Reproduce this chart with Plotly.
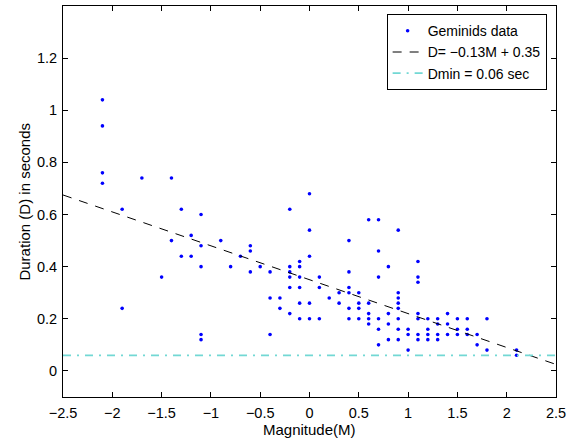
import plotly.graph_objects as go

# Geminids data: magnitude M and duration D (s)
mag = [-2.1, -2.1, -2.1, -2.1, -1.7, -1.4, -1.9, -1.3, -1.1, -1.2, -1.4, -0.9, -1.1, -1.3, -1.2, -1.1, -1.5, -1.9,
       -1.1, -1.1,
       -0.6, -0.6, -0.7, -0.8, -0.5, -0.6, -0.4, 0.0, -0.2, 0.0, 0.0, -0.1, -0.2, -0.1, -0.2, -0.2, -0.1, 0.1,
       -0.2, -0.1, 0.1, -0.4, -0.3, 0.2, -0.3, -0.1, 0.0, 0.3, -0.2, -0.1, 0.0, 0.1, -0.4,
       0.4, 0.4, 0.4, 0.3, 0.4, 0.5, 0.5, 0.6, 0.4, 0.5, 0.4, 0.5, 0.6, 0.7, 0.6, 0.6, 0.7, 0.7,
       0.6, 0.7, 0.7, 0.7, 0.8, 0.8, 0.8, 0.8,
       0.9, 1.1, 1.1, 1.1, 0.9, 0.9, 0.9, 0.9, 0.9, 0.9, 1.0, 1.0, 0.9, 1.0, 1.1, 1.1, 1.2, 1.3, 1.3,
       1.4, 1.4, 1.5, 1.6, 1.8, 1.2, 1.5, 1.6, 1.1, 1.2, 1.3, 1.4, 1.5, 1.6, 1.7, 1.1, 1.2, 1.3,
       1.7, 1.8, 2.1, 2.1]
dur = [1.04, 0.94, 0.76, 0.72, 0.74, 0.74, 0.62, 0.62, 0.60, 0.52, 0.50, 0.50, 0.48, 0.44, 0.44, 0.40, 0.36, 0.24,
       0.14, 0.12,
       0.48, 0.46, 0.44, 0.40, 0.40, 0.38, 0.38, 0.68, 0.62, 0.54, 0.44, 0.42, 0.40, 0.40, 0.38, 0.36, 0.36, 0.36,
       0.32, 0.32, 0.32, 0.28, 0.28, 0.28, 0.24, 0.26, 0.26, 0.26, 0.22, 0.20, 0.20, 0.20, 0.14,
       0.50, 0.38, 0.32, 0.30, 0.30, 0.30, 0.26, 0.26, 0.24, 0.24, 0.20, 0.20, 0.20, 0.20, 0.22, 0.18, 0.16, 0.10,
       0.58, 0.58, 0.46, 0.36, 0.40, 0.22, 0.18, 0.12,
       0.54, 0.42, 0.36, 0.34, 0.30, 0.28, 0.26, 0.24, 0.20, 0.16, 0.16, 0.14, 0.12, 0.08, 0.22, 0.20, 0.20, 0.20, 0.18,
       0.22, 0.18, 0.20, 0.20, 0.20, 0.16, 0.16, 0.16, 0.14, 0.14, 0.14, 0.14, 0.14, 0.14, 0.14, 0.12, 0.12, 0.12,
       0.10, 0.08, 0.08, 0.06]

# Fit line D = slope*M + intercept, and minimum duration
slope = -0.13
intercept = 0.35
dmin = 0.06
fit_x = [-2.5, 2.5]
fit_y = [slope * m + intercept for m in fit_x]
dmin_x = [-2.5, 2.5]
dmin_y = [dmin, dmin]

x_ticks = [-2.5, -2, -1.5, -1, -0.5, 0, 0.5, 1, 1.5, 2, 2.5]
y_ticks = [0, 0.2, 0.4, 0.6, 0.8, 1.0, 1.2]
x_title = "Magnitude(M)"
y_title = "Duration (D) in seconds"

family = "Liberation Sans, Arial, Helvetica, sans-serif"
font = dict(family=family, size=15, color="black")
tick_font = dict(family=family, size=14.5, color="black")

fig = go.Figure()
fig.add_trace(go.Scatter(x=mag, y=dur, mode="markers", name="Geminids data",
                         marker=dict(color="blue", size=3.6, line=dict(width=0))))
fig.add_trace(go.Scatter(x=fit_x, y=fit_y, mode="lines", name="D= \u22120.13M + 0.35",
                         line=dict(color="black", width=1, dash="9px,8px")))
fig.add_trace(go.Scatter(x=dmin_x, y=dmin_y, mode="lines", name="Dmin = 0.06 sec",
                         line=dict(color="#72d8d4", width=1.8, dash="8px,6px,2px,6px")))

axis_common = dict(showline=True, linecolor="black", linewidth=1, mirror="ticks",
                   ticks="inside", ticklen=5, tickcolor="black", showgrid=False,
                   zeroline=False, tickfont=tick_font, automargin=False)

fig.update_layout(
    width=573, height=439,
    margin=dict(l=63, r=17, t=6, b=42),
    paper_bgcolor="white", plot_bgcolor="white",
    font=font,
    showlegend=True,
    legend=dict(x=0.981, y=0.979, xanchor="right", yanchor="top",
                bordercolor="black", borderwidth=1, bgcolor="white",
                font=dict(family=family, size=14, color="black"),
                tracegroupgap=0, itemwidth=30),
    xaxis=dict(range=[-2.5, 2.5], tickvals=x_ticks, ticklabelstandoff=3, **axis_common),
    yaxis=dict(range=[-0.1, 1.4], tickvals=y_ticks, ticklabelstandoff=2, **axis_common),
    annotations=[
        dict(text=x_title, xref="paper", yref="paper", x=0.5, y=-0.083,
             xanchor="center", yanchor="middle", showarrow=False, font=font),
        dict(text=y_title, xref="paper", yref="paper", x=-0.079, y=0.5, textangle=-90,
             xanchor="center", yanchor="middle", showarrow=False, font=font),
    ],
)

fig.write_html("out.html")
